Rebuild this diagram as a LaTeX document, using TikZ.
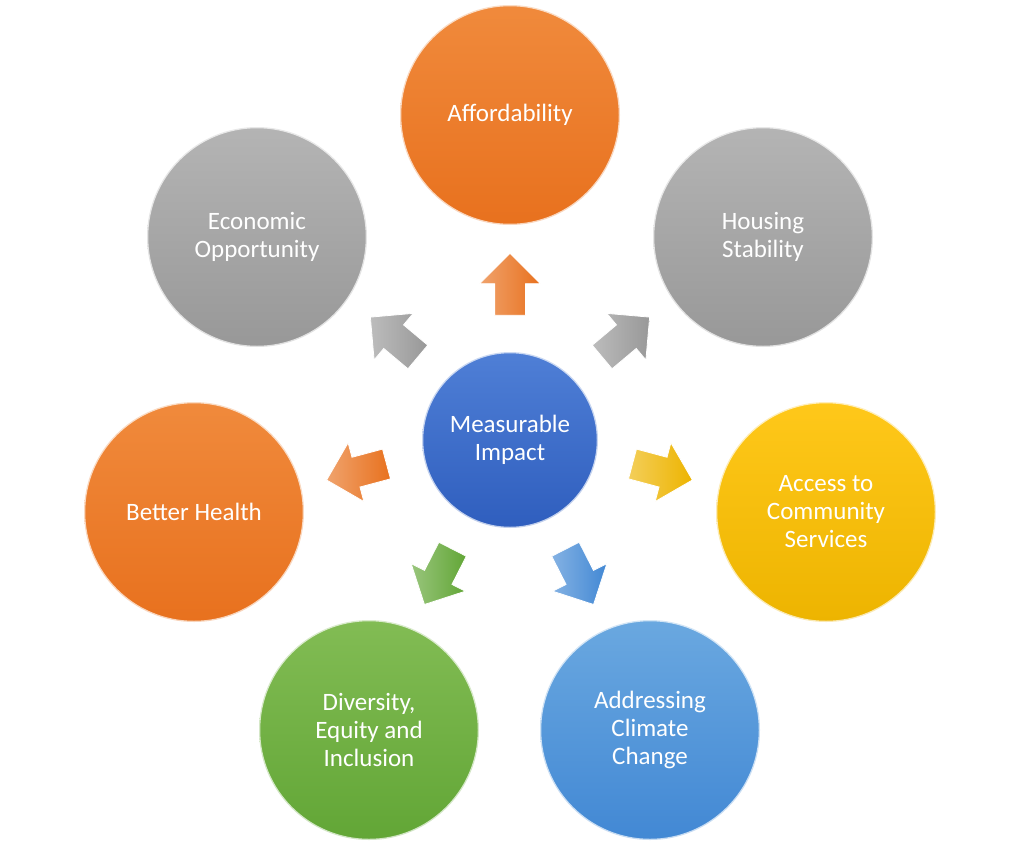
\documentclass[tikz,border=0pt]{standalone}
\usepackage{fontspec}
\setmainfont{Carlito}
\usetikzlibrary{shapes.arrows}
\definecolor{orA}{HTML}{F08A3C}\definecolor{orB}{HTML}{E8711E}
\definecolor{grA}{HTML}{B4B4B4}\definecolor{grB}{HTML}{989898}
\definecolor{yeA}{HTML}{FFC81A}\definecolor{yeB}{HTML}{EDB400}
\definecolor{blA}{HTML}{6AA8E0}\definecolor{blB}{HTML}{4288D4}
\definecolor{gnA}{HTML}{82BC54}\definecolor{gnB}{HTML}{62A636}
\definecolor{cbA}{HTML}{4F7FD6}\definecolor{cbB}{HTML}{2F5EBE}
\tikzset{
 x=1pt,y=-1pt,
 bub/.style 2 args={circle,minimum size=220pt,inner sep=0pt,top color=#1,bottom color=#2,
   draw=white,line width=2.5pt,draw opacity=0.7,text=white,font=\fontsize{25}{28}\selectfont,align=center},
 barrow/.style 2 args={single arrow,minimum height=62pt,minimum width=60pt,single arrow head extend=15pt,
   inner xsep=0pt,inner ysep=15pt,rotate=#1,left color=#2!65,right color=#2,draw=white,line width=0.8pt}
}
\begin{document}
\begin{tikzpicture}
\useasboundingbox (0,0) rectangle (1024,849);
\node[bub={orA}{orB}] (aff) at (510,115) {Affordability};
\node[bub={grA}{grB}] (hou) at (763,237) {Housing\\Stability};
\node[bub={yeA}{yeB}] (acc) at (826,512) {Access to\\Community\\Services};
\node[bub={blA}{blB}] (cli) at (650,730) {Addressing\\Climate\\Change};
\node[bub={gnA}{gnB}] (div) at (369,730) {Diversity,\\Equity and\\Inclusion};
\node[bub={orA}{orB}] (hea) at (194,512) {Better Health};
\node[bub={grA}{grB}] (eco) at (257,237) {Economic\\Opportunity};
\node[bub={cbA}{cbB},minimum size=176pt] (mid) at (510,440) {Measurable\\Impact};
\node[barrow={90}{orB}] (a1) at (510,292) {};
\node[barrow={40}{grB}] (a2) at (620,342) {};
\node[barrow={-15}{yeB}] (a3) at (655,470) {};
\node[barrow={-63}{blB}] (a4) at (576,570) {};
\node[barrow={-117}{gnB}] (a5) at (442,570) {};
\node[barrow={195}{orB}] (a6) at (364,470) {};
\node[barrow={140}{grB}] (a7) at (400,342) {};
\end{tikzpicture}
\end{document}
